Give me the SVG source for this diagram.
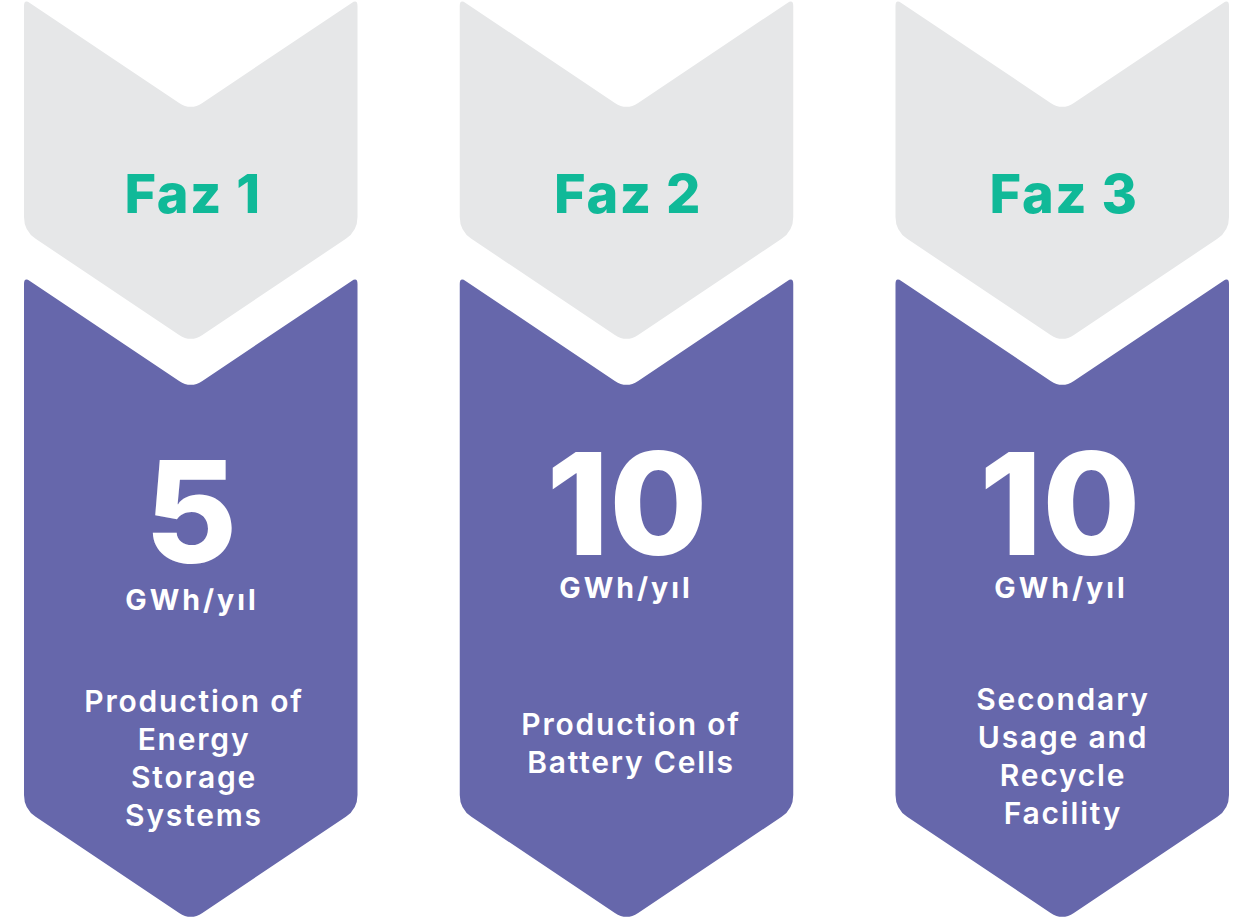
<svg xmlns="http://www.w3.org/2000/svg" xmlns:xlink="http://www.w3.org/1999/xlink" width="1258" height="922" viewBox="0 0 1258 922">
<style>
.gray{fill:#E6E7E8}
.purple{fill:#6667AB}
.faz{font-family:Inter,"Open Sans","Liberation Sans",sans-serif;font-weight:800;font-size:54px;letter-spacing:1.5px;fill:#10B998;text-anchor:middle}
.big{font-family:Inter,"Open Sans","Liberation Sans",sans-serif;font-weight:800;font-size:142px;fill:#FFFFFF;text-anchor:middle}
.unit{font-family:Inter,"Open Sans","Liberation Sans",sans-serif;font-weight:700;font-size:28.5px;letter-spacing:3px;fill:#FFFFFF;text-anchor:middle}
.desc{font-family:Inter,"Open Sans","Liberation Sans",sans-serif;font-weight:600;font-size:30px;letter-spacing:1.8px;fill:#FFFFFF;text-anchor:middle}
</style>
<defs>
<path id="chevGray" d="M5.82,3.9 L155.12,103.91 Q166.75,111.7 178.38,103.91 L327.68,3.9 Q333.5,0 333.5,7 L333.5,218 Q333.5,232 321.87,239.79 L178.38,335.91 Q166.75,343.7 155.12,335.91 L11.63,239.79 Q0,232 0,218 L0,7 Q0,0 5.82,3.9 Z"/>
<path id="chevPurple" d="M5.82,3.9 L155.12,103.91 Q166.75,111.7 178.38,103.91 L327.68,3.9 Q333.5,0 333.5,7 L333.5,518 Q333.5,532 321.87,539.79 L178.38,635.91 Q166.75,643.7 155.12,635.91 L11.63,539.79 Q0,532 0,518 L0,7 Q0,0 5.82,3.9 Z"/>
</defs>
<g id="connectors"></g>
<g id="phase1-header">
<use xlink:href="#chevGray" class="gray" transform="translate(24,-1)"/>
<text class="faz" x="193" y="213">Faz 1</text>
</g>
<g id="phase1-body">
<use xlink:href="#chevPurple" class="purple" transform="translate(24,277)"/>
<text class="big" x="191" y="563">5</text>
<text class="unit" x="192" y="610">GWh/yıl</text>
<text class="desc" x="194" y="712">Production of</text>
<text class="desc" x="194" y="750">Energy</text>
<text class="desc" x="194" y="788">Storage</text>
<text class="desc" x="194" y="826">Systems</text>
</g>
<g id="phase2-header">
<use xlink:href="#chevGray" class="gray" transform="translate(459.75,-1)"/>
<text class="faz" x="628" y="213">Faz 2</text>
</g>
<g id="phase2-body">
<use xlink:href="#chevPurple" class="purple" transform="translate(459.75,277)"/>
<text class="big" x="627" y="555">10</text>
<text class="unit" x="626" y="598">GWh/yıl</text>
<text class="desc" x="631" y="735">Production of</text>
<text class="desc" x="631" y="773">Battery Cells</text>
</g>
<g id="phase3-header">
<use xlink:href="#chevGray" class="gray" transform="translate(895.5,-1)"/>
<text class="faz" x="1064" y="213">Faz 3</text>
</g>
<g id="phase3-body">
<use xlink:href="#chevPurple" class="purple" transform="translate(895.5,277)"/>
<text class="big" x="1060" y="555">10</text>
<text class="unit" x="1061" y="598">GWh/yıl</text>
<text class="desc" x="1063" y="710">Secondary</text>
<text class="desc" x="1063" y="748">Usage and</text>
<text class="desc" x="1063" y="786">Recycle</text>
<text class="desc" x="1063" y="824">Facility</text>
</g>
</svg>
